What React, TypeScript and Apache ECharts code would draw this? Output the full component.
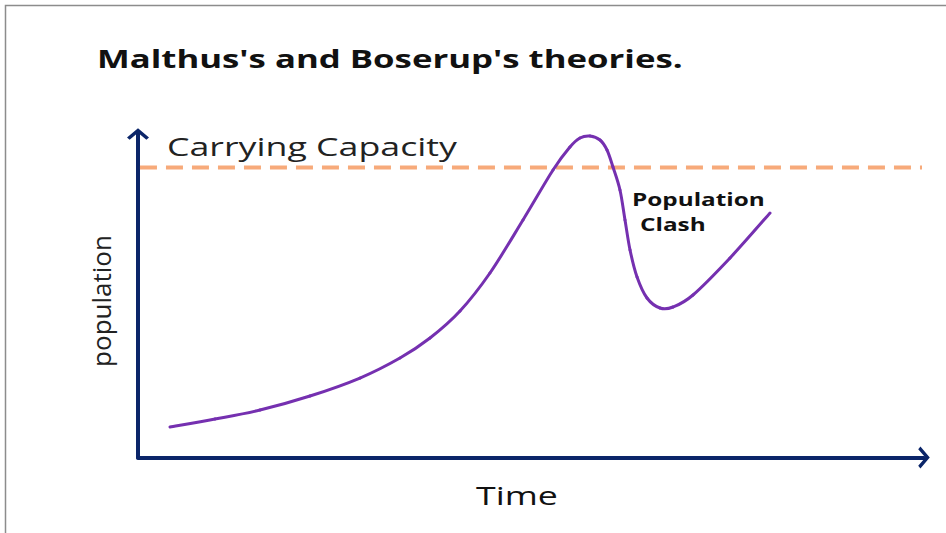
import React, { useEffect, useRef } from "react";
import * as echarts from "echarts";

// Time (x) and population (y)
const timeValues = [4.07, 9.8, 15.52, 21.88, 28.24, 33.33, 37.15, 40.97, 44.78, 48.98, 52.8, 54.96, 56.23, 57.51, 58.78, 59.67, 60.43, 61.32, 61.96, 62.6, 63.49, 64.76, 66.41, 68.07, 70.61, 75.32, 80.41];
const populationValues = [9.43, 11.9, 14.68, 19.01, 24.57, 30.76, 36.94, 45.29, 57.03, 73.42, 88.87, 95.98, 98.76, 99.38, 98.15, 95.05, 89.8, 82.69, 73.42, 64.14, 55.8, 49.3, 46.21, 46.52, 50.23, 61.67, 75.58];
const carryingCapacity = 89.64;
const capacitySpan = [0.25, 99.75];

const titleText = "Malthus's and Boserup's theories.";
const capacityLabel = "Carrying Capacity";
const clashLabel = ["Population", "Clash"];
const yAxisName = "population";
const xAxisName = "Time";

const AXIS_COLOR = "#0b2569";
const CURVE_COLOR = "#7530b0";
const CAPACITY_COLOR = "#f7aa7a";
const arrowPath = "path://M10,0 L20,8.5 L17.6,10.5 L10,4 L2.4,10.5 L0,8.5 Z";
const STRETCH = 1.43;

export default function App() {
  const ref = useRef<HTMLDivElement>(null);
  useEffect(() => {
    if (!ref.current) return;
    const chart = echarts.init(ref.current, undefined, { renderer: "svg" });
    const curve = timeValues.map((t, i) => [t, populationValues[i]]);
    const capacity = capacitySpan.map((t) => [t, carryingCapacity]);
    const n = curve.length;
    const axisCommon = {
      type: "value" as const,
      min: 0,
      max: 100,
      axisLabel: { show: false },
      axisTick: { show: false },
      splitLine: { show: false },
      axisLine: {
        show: true,
        onZero: false,
        symbol: ["none", arrowPath],
        symbolSize: [22, 12],
        lineStyle: { color: AXIS_COLOR, width: 4 },
      },
    };
    chart.setOption({
      animation: false,
      backgroundColor: "#ffffff",
      grid: { left: 138, right: 22, top: 134, bottom: 75.5 },
      xAxis: { ...axisCommon },
      yAxis: { ...axisCommon },
      series: [
        {
          type: "line",
          data: capacity,
          symbol: "none",
          silent: true,
          lineStyle: { color: CAPACITY_COLOR, width: 4, type: [17, 9] },
          z: 2,
        },
        {
          type: "custom",
          data: curve,
          silent: true,
          z: 3,
          renderItem: (params: any, api: any) => {
            const i = params.dataIndex;
            if (i >= n - 1) return null;
            const p0 = api.coord(curve[Math.max(i - 1, 0)]);
            const p1 = api.coord(curve[i]);
            const p2 = api.coord(curve[i + 1]);
            const p3 = api.coord(curve[Math.min(i + 2, n - 1)]);
            return {
              type: "bezierCurve",
              shape: {
                x1: p1[0],
                y1: p1[1],
                cpx1: p1[0] + (p2[0] - p0[0]) / 6,
                cpy1: p1[1] + (p2[1] - p0[1]) / 6,
                cpx2: p2[0] - (p3[0] - p1[0]) / 6,
                cpy2: p2[1] - (p3[1] - p1[1]) / 6,
                x2: p2[0],
                y2: p2[1],
              },
              style: {
                fill: "none",
                stroke: CURVE_COLOR,
                lineWidth: 3,
                lineCap: "round",
              },
            };
          },
        },
      ],
      graphic: [
        {
          type: "rect",
          silent: true,
          shape: { x: 5.5, y: 5.5, width: 980, height: 600 },
          style: { fill: "none", stroke: "#8c8c8c", lineWidth: 1.5 },
        },
        {
          type: "text",
          x: 97,
          y: 59,
          scaleX: 1.39,
          style: {
            text: titleText,
            font: "bold 25px 'Open Sans'",
            fill: "#111111",
            textVerticalAlign: "middle",
          },
        },
        {
          type: "text",
          x: 167,
          y: 146,
          scaleX: STRETCH,
          style: {
            text: capacityLabel,
            font: "25px 'Open Sans'",
            fill: "#222222",
            textVerticalAlign: "middle",
          },
        },
        {
          type: "text",
          x: 632,
          y: 200,
          scaleX: STRETCH,
          style: {
            text: clashLabel[0],
            font: "bold 17px 'Open Sans'",
            fill: "#111111",
            textVerticalAlign: "middle",
          },
        },
        {
          type: "text",
          x: 640,
          y: 225,
          scaleX: STRETCH,
          style: {
            text: clashLabel[1],
            font: "bold 17px 'Open Sans'",
            fill: "#111111",
            textVerticalAlign: "middle",
          },
        },
        {
          type: "text",
          x: 101,
          y: 301,
          rotation: Math.PI / 2,
          style: {
            text: yAxisName,
            font: "26px 'Liberation Sans Narrow', 'Open Sans'",
            fill: "#222222",
            textAlign: "center",
            textVerticalAlign: "middle",
          },
        },
        {
          type: "text",
          x: 517,
          y: 495,
          scaleX: STRETCH,
          style: {
            text: xAxisName,
            font: "25px 'Open Sans'",
            fill: "#111111",
            textAlign: "center",
            textVerticalAlign: "middle",
          },
        },
      ],
    });
    return () => chart.dispose();
  }, []);
  return (
    <div
      ref={ref}
      style={{ position: "fixed", left: 0, top: 0, width: 946, height: 533 }}
    />
  );
}
